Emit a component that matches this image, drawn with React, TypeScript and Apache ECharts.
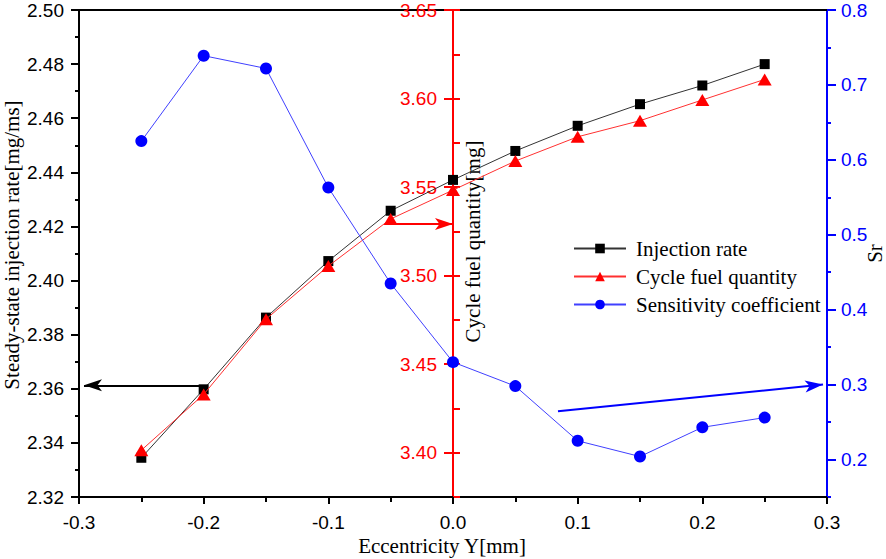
import React, { useEffect, useRef } from 'react';
import * as echarts from 'echarts';

const eccentricity = [-0.25, -0.2, -0.15, -0.1, -0.05, 0, 0.05, 0.1, 0.15, 0.2, 0.25];
const injectionRate = [2.3345, 2.3598, 2.3863, 2.4072, 2.4258, 2.4372, 2.4479, 2.4572, 2.4652, 2.4721, 2.48];
const cycleFuel = [3.4014, 3.4329, 3.4754, 3.5054, 3.532, 3.5483, 3.5647, 3.5784, 3.5875, 3.5992, 3.6108];
const sensitivity = [0.625, 0.739, 0.722, 0.563, 0.435, 0.33, 0.298, 0.225, 0.204, 0.243, 0.256];

const cycleMajorTicks = [3.4, 3.45, 3.5, 3.55, 3.6, 3.65];
const srMajorTicks = [0.2, 0.3, 0.4, 0.5, 0.6, 0.7, 0.8];

// annotation arrows: [startX, startY, endX, endY]
const blackArrow = [-0.2, 2.3613, -0.296, 2.3613];
const redArrow = [-0.05, 3.5291, 0, 3.5291];
const blueArrow = [0.0842, 0.2643, 0.2968, 0.3];

const seriesNames = ['Injection rate', 'Cycle fuel quantity', 'Sensitivity coefficient'];

const SANS = 'Liberation Sans';
const SERIF = 'Liberation Serif';

function pairs(ys: number[]) {
  return eccentricity.map((x, i) => [x, ys[i]]);
}

function arrow(a: number[], color: string) {
  return {
    silent: true,
    symbol: ['none', 'arrow'],
    symbolSize: [9, 18],
    label: { show: false },
    lineStyle: { color, width: 2, type: 'solid' },
    emphasis: { disabled: true },
    data: [[{ coord: [a[0], a[1]] }, { coord: [a[2], a[3]] }]],
  };
}

export default function App() {
  const ref = useRef<HTMLDivElement>(null);
  useEffect(() => {
    document.body.style.margin = '0';
    const chart = echarts.init(ref.current!, null, { renderer: 'svg' });
    const labelBase = { fontFamily: SANS, fontSize: 19 };
    const nameBase = { fontFamily: SERIF, fontSize: 21, color: '#000' };
    chart.setOption({
      animation: false,
      grid: { left: 79, right: 59, top: 10, bottom: 62, containLabel: false, outerBoundsMode: 'none' },
      legend: {
        orient: 'vertical',
        left: 568,
        top: 233,
        itemWidth: 52,
        itemHeight: 12,
        itemGap: 7,
        data: seriesNames,
        textStyle: { fontFamily: SERIF, fontSize: 21, color: '#000', padding: [0, 0, 0, 5] },
      },
      xAxis: [
        {
          type: 'value',
          min: -0.3,
          max: 0.3,
          interval: 0.1,
          position: 'bottom',
          name: 'Eccentricity Y[mm]',
          nameLocation: 'middle',
          nameGap: 38,
          nameMoveOverlap: false,
          nameTextStyle: { ...nameBase, padding: [0, 22, 0, 0] },
          axisLine: { onZero: false, lineStyle: { color: '#000', width: 2 } },
          axisTick: { show: true, length: 7, lineStyle: { color: '#000', width: 2 } },
          minorTick: { show: true, splitNumber: 2, length: 5, lineStyle: { color: '#000', width: 2 } },
          axisLabel: { ...labelBase, color: '#000', margin: 16, formatter: (v: number) => v.toFixed(1) },
          splitLine: { show: false },
        },
        {
          type: 'value',
          min: -0.3,
          max: 0.3,
          position: 'top',
          axisLine: { onZero: false, lineStyle: { color: '#000', width: 2 } },
          axisTick: { show: false },
          axisLabel: { show: false },
          splitLine: { show: false },
        },
      ],
      yAxis: [
        {
          type: 'value',
          min: 2.32,
          max: 2.5,
          interval: 0.02,
          position: 'left',
          name: 'Steady-state injection rate[mg/ms]',
          nameLocation: 'middle',
          nameGap: 57,
          nameMoveOverlap: false,
          nameTextStyle: { ...nameBase, padding: [0, 0, 0, 17] },
          axisLine: { show: true, onZero: false, lineStyle: { color: '#000', width: 2 } },
          axisTick: { show: true, length: 8, lineStyle: { color: '#000', width: 2 } },
          minorTick: { show: true, splitNumber: 2, length: 4, lineStyle: { color: '#000', width: 2 } },
          axisLabel: { ...labelBase, color: '#000', margin: 15, formatter: (v: number) => v.toFixed(2) },
          splitLine: { show: false },
        },
        {
          type: 'value',
          min: 3.375,
          max: 3.65,
          interval: 0.025,
          position: 'left',
          offset: -374,
          name: 'Cycle fuel quantity[mg]',
          nameLocation: 'middle',
          nameGap: -30,
          nameMoveOverlap: false,
          nameTextStyle: { ...nameBase, padding: [0, 0, 0, 24] },
          axisLine: { show: true, onZero: false, lineStyle: { color: '#ff0000', width: 2 } },
          axisTick: { show: true, length: 9, customValues: cycleMajorTicks, lineStyle: { color: '#ff0000', width: 2 } },
          axisLabel: {
            ...labelBase,
            color: '#ff0000',
            margin: 16,
            customValues: cycleMajorTicks,
            formatter: (v: number) => (Math.round(v * 1000) % 50 === 0 ? v.toFixed(2) : ''),
          },
          splitLine: { show: false },
        },
        {
          type: 'value',
          min: 0.15,
          max: 0.8,
          interval: 0.05,
          position: 'right',
          name: 'Sr',
          nameLocation: 'middle',
          nameGap: 37,
          nameMoveOverlap: false,
          nameTextStyle: nameBase,
          axisLine: { show: true, onZero: false, lineStyle: { color: '#0000ff', width: 2 } },
          axisTick: { show: true, length: 9, customValues: srMajorTicks, lineStyle: { color: '#0000ff', width: 2 } },
          axisLabel: {
            ...labelBase,
            color: '#0000ff',
            margin: 14,
            customValues: srMajorTicks,
            formatter: (v: number) => (Math.round(v * 100) % 10 === 0 ? v.toFixed(1) : ''),
          },
          splitLine: { show: false },
        },
        {
          type: 'value',
          min: 3.375,
          max: 3.65,
          interval: 0.025,
          position: 'left',
          offset: -374,
          axisLine: { show: false, onZero: false },
          axisTick: { show: true, inside: true, length: 7, lineStyle: { color: '#ff0000', width: 2 } },
          axisLabel: { show: false },
          splitLine: { show: false },
        },
        {
          type: 'value',
          min: 0.15,
          max: 0.8,
          interval: 0.05,
          position: 'right',
          axisLine: { show: false, onZero: false },
          axisTick: { show: true, length: 4, lineStyle: { color: '#0000ff', width: 2 } },
          axisLabel: { show: false },
          splitLine: { show: false },
        },
      ],
      series: [
        {
          name: seriesNames[0],
          type: 'line',
          xAxisIndex: 0,
          yAxisIndex: 0,
          data: pairs(injectionRate),
          symbol: 'rect',
          symbolSize: 10,
          itemStyle: { color: '#000' },
          lineStyle: { color: '#333', width: 1 },
          markLine: arrow(blackArrow, '#000'),
          z: 3,
        },
        {
          name: seriesNames[1],
          type: 'line',
          xAxisIndex: 0,
          yAxisIndex: 1,
          data: pairs(cycleFuel),
          symbol: 'triangle',
          symbolSize: [14, 12],
          itemStyle: { color: '#ff0000' },
          lineStyle: { color: '#ff3030', width: 1 },
          markLine: arrow(redArrow, '#ff0000'),
          z: 4,
        },
        {
          name: seriesNames[2],
          type: 'line',
          xAxisIndex: 0,
          yAxisIndex: 2,
          data: pairs(sensitivity),
          symbol: 'circle',
          symbolSize: 12,
          itemStyle: { color: '#0000ff' },
          lineStyle: { color: '#4040ff', width: 1 },
          markLine: arrow(blueArrow, '#0000ff'),
          z: 5,
        },
      ],
    });
    return () => chart.dispose();
  }, []);
  return <div ref={ref} style={{ width: 886, height: 559 }} />;
}
